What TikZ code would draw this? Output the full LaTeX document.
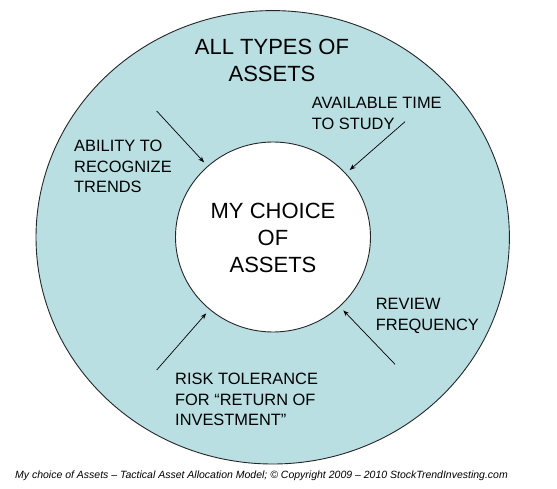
\documentclass[tikz,border=0pt]{standalone}
\usepackage{fontspec}
\setmainfont{Liberation Sans}
\usetikzlibrary{shapes.geometric,arrows.meta}
\definecolor{ringblue}{RGB}{185,223,227}
\begin{document}
\begin{tikzpicture}[x=1pt,y=-1pt,
  ring/.style={ellipse, draw=black!85, line width=0.9pt, inner sep=0pt},
  big/.style={font=\fontsize{22}{26.5}\selectfont, align=center, inner sep=0pt, anchor=north},
  small/.style={font=\fontsize{16.4}{20.3}\selectfont, align=left, inner sep=0pt, anchor=north west},
  arr/.style={-{Stealth[length=6pt,width=4.5pt]}, line width=0.7pt, shorten >=5pt}]
\useasboundingbox (0,0) rectangle (557,489);
\node[ring, fill=ringblue, minimum width=473.4pt, minimum height=453.4pt] (outer) at (272.7,237.3) {};
\node[ring, fill=white, minimum width=195pt, minimum height=190pt] (inner) at (273,237) {};
\node[big] (all) at (272,39.3) {ALL TYPES OF\\ASSETS};
\node[big, font=\fontsize{22}{27}\selectfont] (mine) at (273,203.1) {MY CHOICE\\OF\\ASSETS};
\node[small] (ability) at (74,140.1) {ABILITY TO\\RECOGNIZE\\TRENDS};
\node[small] (time) at (311.7,97.4) {AVAILABLE TIME\\TO STUDY};
\node[small, font=\fontsize{16.4}{21}\selectfont] (review) at (375.7,298.1) {REVIEW\\FREQUENCY};
\node[small, font=\fontsize{16.4}{20.5}\selectfont] (risk) at (175,373.1) {RISK TOLERANCE\\FOR “RETURN OF\\INVESTMENT”};
\coordinate (s1) at (156.7,111);
\coordinate (s2) at (405,121.7);
\coordinate (s3) at (156.7,370);
\coordinate (s4) at (395,364.3);
\draw[arr] (s1) -- (inner);
\draw[arr] (s2) -- (inner);
\draw[arr] (s3) -- (inner);
\draw[arr] (s4) -- (inner);
\node[font=\itshape\fontsize{10.5}{12.5}\selectfont, anchor=base, inner sep=0pt] (caption) at (261.5,478.8) {My choice of Assets – Tactical Asset Allocation Model; © Copyright 2009 – 2010 StockTrendInvesting.com};
\end{tikzpicture}
\end{document}
